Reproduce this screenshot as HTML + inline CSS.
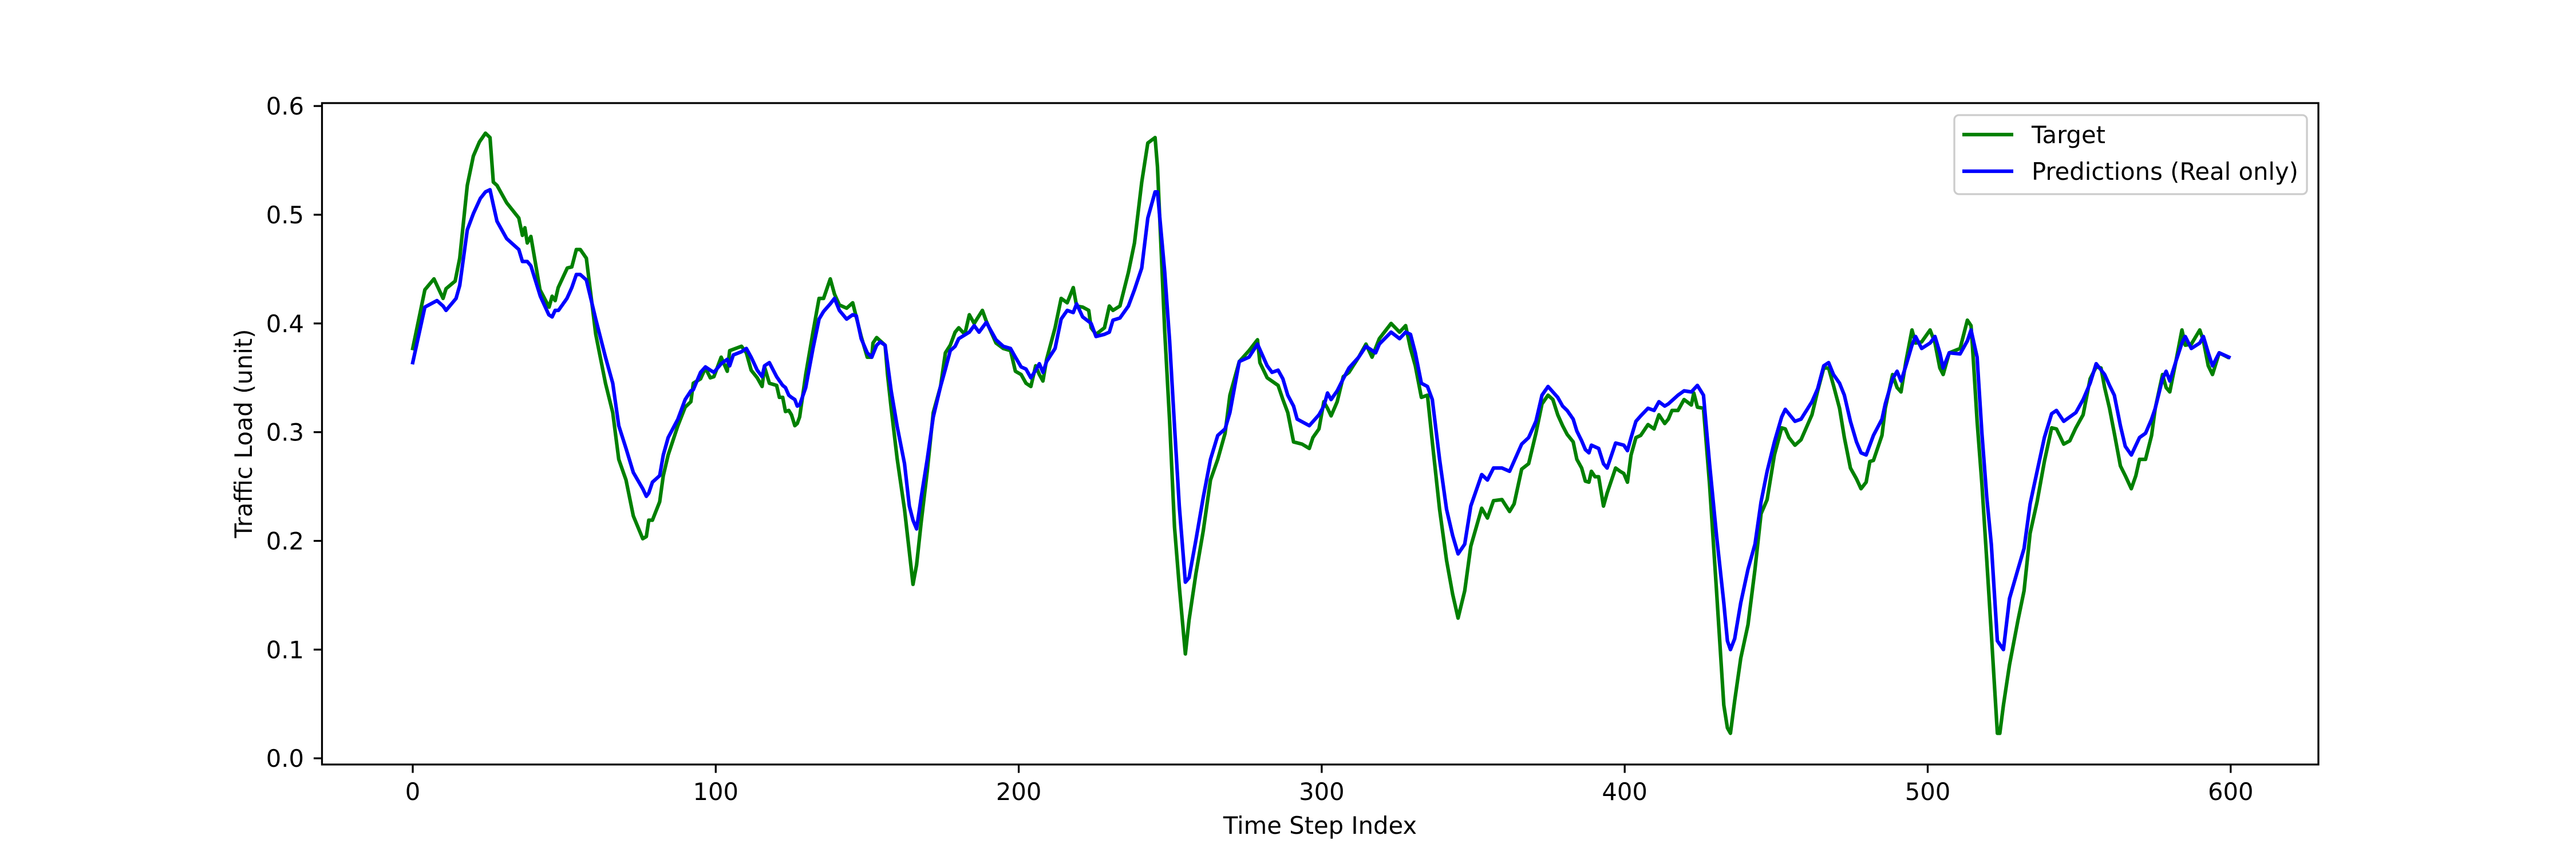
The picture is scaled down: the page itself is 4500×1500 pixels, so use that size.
<!DOCTYPE html>
<html>
<head>
<meta charset="utf-8">
<style>
html,body{margin:0;padding:0;background:#fff;}
svg{display:block;}
text{font-family:"DejaVu Sans","Liberation Sans",sans-serif;font-size:41.7px;fill:#000;}
</style>
</head>
<body>
<svg id="chart" width="4500" height="1500" viewBox="0 0 4500 1500" xmlns="http://www.w3.org/2000/svg">
  <rect x="0" y="0" width="4500" height="1500" fill="#ffffff"/>
  <g id="plot"></g>
  <g id="axes"></g>
  <text x="2306" y="1456" text-anchor="middle">Time Step Index</text>
  <text x="0" y="0" text-anchor="middle" transform="translate(440,757) rotate(-90)">Traffic Load (unit)</text>
  <g>
    <rect x="3414" y="201" width="616" height="138" rx="8" fill="#ffffff" fill-opacity="0.8" stroke="#cccccc" stroke-width="3.3"/>
    <g>
      <line x1="3428" y1="235" x2="3517" y2="235" stroke="#008000" stroke-width="6.25"/>
      <text x="3549" y="250">Target</text>
    </g>
    <g>
      <line x1="3428" y1="299" x2="3517" y2="299" stroke="#0000ff" stroke-width="6.25"/>
      <text x="3549" y="314">Predictions (Real only)</text>
    </g>
  </g>
</svg>
<script>
const targetSteps = [0,4,7,10,11,14,15.5,18,20,22,24,25.5,26.6,27.8,31,35,36.2,37,37.8,39,42,45,46,47,48,51,52.5,54,55.3,57.3,60.4,63.6,66,68,70.4,72.8,75.9,77.1,77.9,79.1,81.5,82.7,84.3,87.5,89.9,91.8,92.6,95,96.6,98.2,99.4,101.8,103.8,104.6,108.5,110.1,111.7,113.7,115.3,116.1,117.7,120.1,121,122.1,123,124.1,125,126.1,126.9,127.7,129.7,132.1,134.1,135.6,137.8,139.2,140.8,143.2,145.2,148,150,151.5,151.9,153.1,155.9,156.7,157.9,159.9,162.3,163.9,165.1,166.3,167.8,169.8,171.8,174.2,175.8,177.4,179,180.2,182.2,183.7,185.3,188,189.3,192.5,194.9,197.3,198.9,200.8,202.4,204,205.6,206.8,208,209.2,212,214,216,218,219.1,221.1,223.1,223.9,225.5,228.3,229.9,231.1,233.4,236.2,238.2,240.6,242.6,245,245.8,248.2,249.8,251.4,253,255,256.2,258.5,260.9,263.3,265.7,268.1,269.7,272.8,276,278.8,279.6,282,285.6,287.2,288.8,290.7,293.5,295.9,297.1,299.1,300.7,301.9,303.1,305.1,307.1,309,312.2,314.6,316.6,319,322.9,325.7,327.7,329.3,330.9,332.9,334.9,336.5,338.9,341.2,343.2,345,347.2,349.2,352.8,354.7,356.7,359.5,362,363.5,366,368.3,370.7,372.7,374.7,376.3,377.9,379.5,381,383,384.2,385.8,387,388.2,389,390.2,391.4,393,394.2,397,398.5,399.7,400.9,402.1,403.7,405.3,407.7,409.7,411.3,413.2,414.4,415.6,417.6,419.6,422,422.8,424,426,428,430.3,432.7,433.9,434.9,436.3,438.3,440.7,443,445,447,449.4,451.8,453,454.2,456.2,458.2,461.8,463.7,465.7,467.3,468.9,470.9,472.5,474.5,476.5,478,479.7,480.9,482.1,484.9,486,488.4,489.9,491.2,492.8,494.8,496,498,500.8,502.4,504,505.1,507.1,510.7,513.1,514.3,515.1,516.3,517.9,519.5,521,523,523.8,525,527,529.8,531.8,533.8,536.1,538.5,540.9,542.5,544.9,546.9,548.9,551.3,553.6,555.6,557.2,558.4,560,561.6,563.6,565.2,567.2,568.7,569.9,571.9,573.9,575.1,577.5,578.7,579.9,581.9,583.9,585,587,589.8,591,592.6,594,596.2,599];
const targetValues = [0.377,0.431,0.441,0.423,0.432,0.439,0.460,0.527,0.554,0.567,0.575,0.571,0.530,0.527,0.511,0.497,0.481,0.488,0.474,0.480,0.431,0.415,0.425,0.421,0.433,0.451,0.452,0.468,0.468,0.460,0.390,0.345,0.318,0.275,0.256,0.223,0.202,0.204,0.219,0.219,0.236,0.260,0.279,0.306,0.323,0.328,0.345,0.349,0.359,0.350,0.351,0.369,0.356,0.375,0.379,0.373,0.357,0.350,0.342,0.360,0.345,0.343,0.332,0.332,0.319,0.320,0.316,0.306,0.308,0.314,0.353,0.392,0.423,0.423,0.441,0.427,0.417,0.414,0.419,0.388,0.369,0.369,0.382,0.387,0.380,0.353,0.322,0.275,0.229,0.190,0.160,0.178,0.217,0.264,0.318,0.342,0.373,0.380,0.392,0.396,0.390,0.408,0.400,0.412,0.402,0.382,0.377,0.375,0.356,0.353,0.345,0.342,0.361,0.353,0.347,0.367,0.396,0.423,0.419,0.433,0.416,0.415,0.412,0.396,0.390,0.396,0.416,0.412,0.416,0.447,0.474,0.530,0.566,0.571,0.544,0.392,0.310,0.213,0.158,0.096,0.127,0.170,0.209,0.256,0.275,0.299,0.334,0.365,0.375,0.385,0.364,0.350,0.343,0.330,0.318,0.291,0.289,0.285,0.295,0.303,0.328,0.322,0.315,0.328,0.351,0.355,0.369,0.381,0.369,0.386,0.400,0.392,0.398,0.377,0.361,0.332,0.334,0.291,0.229,0.182,0.151,0.129,0.154,0.195,0.230,0.221,0.237,0.238,0.227,0.234,0.266,0.271,0.299,0.326,0.334,0.330,0.316,0.306,0.298,0.291,0.275,0.267,0.255,0.254,0.264,0.259,0.259,0.232,0.244,0.267,0.264,0.262,0.254,0.279,0.295,0.297,0.307,0.303,0.316,0.308,0.312,0.320,0.320,0.330,0.325,0.336,0.323,0.322,0.252,0.154,0.049,0.028,0.023,0.053,0.092,0.123,0.174,0.225,0.238,0.279,0.304,0.303,0.295,0.288,0.293,0.316,0.338,0.359,0.359,0.343,0.322,0.295,0.267,0.257,0.248,0.254,0.273,0.274,0.297,0.322,0.353,0.341,0.337,0.365,0.394,0.382,0.383,0.394,0.382,0.359,0.353,0.373,0.377,0.403,0.398,0.365,0.310,0.252,0.182,0.115,0.023,0.023,0.049,0.086,0.127,0.154,0.207,0.236,0.273,0.304,0.303,0.289,0.292,0.304,0.316,0.349,0.360,0.359,0.341,0.322,0.299,0.269,0.260,0.248,0.260,0.275,0.275,0.297,0.322,0.353,0.341,0.337,0.365,0.394,0.380,0.381,0.394,0.384,0.361,0.353,0.373,0.369];
const predSteps = [0,4,8,10,11,14.3,15.5,18,20,22.3,24,25.5,26.6,27.8,31,35,36.2,37.8,39,42.1,44.9,46,47,48.1,50.9,52.5,54,55.3,57.3,60.4,63.6,66,68,70.4,72.8,75.9,77.1,77.9,79.1,81.5,82.7,84.3,87.5,89.9,91.8,92.6,95,96.6,98.2,99.4,101.8,103.8,104.6,105.8,108.5,110.1,111.7,113.7,115.3,116.1,117.7,120.1,122.1,123,124.1,125,126.1,126.9,127.7,129.7,132.1,134.1,135.6,137.8,139.2,140.8,143.2,145.2,146.4,148,150,151.5,153.1,154.3,155.9,157.9,159.9,162.3,163.9,165.1,166.3,167.8,169.8,171.8,174.2,175.8,177.4,179,180.2,183.7,185.3,186.9,189.3,192.5,194.9,197.3,198.9,200.8,202.4,204,205.6,206.8,208,209.2,212,214,216,218,219.1,221.1,223.9,225.5,228.3,229.9,231.1,233.4,236.2,238.2,240.6,242.6,245,245.8,248.2,249.8,251.4,253,255,256.2,258.5,260.9,263.3,265.7,268.1,269.7,272.8,276,278.8,282,283.6,285.6,287.2,288.8,290.7,291.9,295.9,299.1,300.7,301.9,303.1,305.1,307.1,309,312.2,314.6,317.8,319,322.9,325.7,327.7,329.3,330.9,332.9,334.9,336.5,338.9,341.2,343.2,345,347.2,349.2,352.8,354.7,356.7,359.5,362,366,368.3,370.7,372.7,374.7,377.9,379.5,381,383,384.2,385.8,387,388.2,389,391.4,393,394.2,397,399.7,400.9,402.1,403.7,405.3,407.7,409.7,411.3,413.2,414.4,417.6,419.6,422,424,426,428,430.3,432.7,433.9,434.9,436.3,438.3,440.7,443,445,447,449.4,451.8,453,456.2,458.2,461.8,463.7,465.7,467.3,468.9,470.9,472.5,474.5,476.5,478,479.7,482.1,484.9,486,488.4,489.9,491.2,492.8,494.8,496,498,500.8,502.4,504,505.1,507.1,510.7,513.1,514.3,516.3,517.9,519.5,521,523,525,527,529.8,531.8,533.8,536.1,538.5,540.9,542.5,544.9,548.9,551.3,553.6,555.6,558.4,560,561.6,563.6,565.2,567.2,569.9,571.9,573.9,575.1,577.5,578.7,579.9,581.9,583.9,585,587,589.8,591,592.6,594,596.2,599.4];
const predValues = [0.364,0.415,0.421,0.416,0.412,0.423,0.435,0.486,0.501,0.515,0.521,0.523,0.509,0.494,0.478,0.468,0.457,0.457,0.453,0.425,0.408,0.406,0.412,0.412,0.423,0.433,0.445,0.445,0.440,0.404,0.369,0.345,0.306,0.285,0.263,0.248,0.241,0.244,0.254,0.260,0.279,0.295,0.312,0.330,0.338,0.339,0.355,0.360,0.357,0.355,0.363,0.367,0.361,0.371,0.374,0.377,0.369,0.357,0.351,0.361,0.364,0.351,0.343,0.341,0.334,0.332,0.330,0.324,0.325,0.341,0.377,0.404,0.411,0.418,0.423,0.412,0.404,0.408,0.407,0.386,0.373,0.369,0.380,0.383,0.380,0.338,0.305,0.271,0.232,0.219,0.211,0.240,0.275,0.314,0.342,0.358,0.375,0.379,0.386,0.392,0.398,0.392,0.401,0.385,0.379,0.377,0.369,0.360,0.358,0.350,0.357,0.363,0.355,0.365,0.377,0.404,0.412,0.410,0.418,0.406,0.400,0.388,0.390,0.392,0.403,0.405,0.416,0.431,0.451,0.497,0.521,0.521,0.447,0.384,0.306,0.232,0.162,0.166,0.201,0.240,0.275,0.297,0.303,0.318,0.365,0.369,0.381,0.361,0.355,0.357,0.349,0.334,0.324,0.312,0.306,0.316,0.324,0.336,0.330,0.338,0.349,0.359,0.369,0.379,0.373,0.381,0.392,0.386,0.392,0.390,0.373,0.345,0.342,0.330,0.275,0.229,0.205,0.188,0.197,0.232,0.261,0.256,0.267,0.267,0.264,0.289,0.295,0.310,0.334,0.342,0.332,0.324,0.320,0.312,0.301,0.292,0.284,0.281,0.288,0.285,0.271,0.267,0.290,0.288,0.283,0.295,0.310,0.315,0.322,0.320,0.328,0.324,0.326,0.334,0.338,0.337,0.343,0.334,0.271,0.205,0.143,0.108,0.100,0.110,0.143,0.174,0.197,0.236,0.264,0.291,0.314,0.321,0.310,0.312,0.328,0.340,0.361,0.364,0.353,0.345,0.334,0.310,0.291,0.281,0.279,0.297,0.312,0.326,0.349,0.356,0.347,0.361,0.380,0.388,0.377,0.382,0.388,0.373,0.359,0.373,0.372,0.384,0.394,0.369,0.299,0.240,0.197,0.108,0.100,0.147,0.174,0.193,0.234,0.264,0.295,0.317,0.320,0.310,0.318,0.330,0.345,0.363,0.353,0.343,0.334,0.306,0.287,0.279,0.295,0.299,0.312,0.322,0.349,0.356,0.347,0.365,0.382,0.388,0.377,0.382,0.388,0.373,0.361,0.373,0.369];
const xTickValues = [0,100,200,300,400,500,600];
const xTickLabels = ["0","100","200","300","400","500","600"];
const yTickValues = [0.0,0.1,0.2,0.3,0.4,0.5,0.6];
const yTickLabels = ["0.0","0.1","0.2","0.3","0.4","0.5","0.6"];

const NS = "http://www.w3.org/2000/svg";
const AX = {left:562.5, right:4050, top:180, bottom:1335};
const XMIN = -29.95, XMAX = 628.95, YMIN = -0.0057, YMAX = 0.6027;
function xScale(v){ return AX.left + (v - XMIN) / (XMAX - XMIN) * (AX.right - AX.left); }
function yScale(v){ return AX.bottom - (v - YMIN) / (YMAX - YMIN) * (AX.bottom - AX.top); }
function mk(tag, attrs){ const e = document.createElementNS(NS, tag); for (const k in attrs) e.setAttribute(k, attrs[k]); return e; }

const plot = document.getElementById('plot');
const axes = document.getElementById('axes');

function drawSeries(steps, vals, color, name){
  const d = steps.map((s,i)=>(i?'L':'M')+xScale(s).toFixed(1)+','+yScale(vals[i]).toFixed(1)).join('');
  const p = mk('path', {d:d, fill:'none', stroke:color, 'stroke-width':6.25, 'stroke-linejoin':'round', 'stroke-linecap':'square'});
  
  
  plot.appendChild(p);
}
drawSeries(targetSteps, targetValues, '#008000', 'target-line');
drawSeries(predSteps, predValues, '#0000ff', 'predictions-line');

const frame = mk('rect', {x:AX.left, y:AX.top, width:AX.right-AX.left, height:AX.bottom-AX.top, fill:'none', stroke:'#000', 'stroke-width':3.3});


axes.appendChild(frame);

xTickValues.forEach((v,i)=>{
  const x = xScale(v);
  const t = mk('line', {x1:x, y1:AX.bottom, x2:x, y2:AX.bottom+14.6, stroke:'#000', 'stroke-width':3.3});
  
  
  axes.appendChild(t);
  const l = mk('text', {x:x, y:1397, 'text-anchor':'middle'});
  
  
  l.textContent = xTickLabels[i];
  axes.appendChild(l);
});
yTickValues.forEach((v,i)=>{
  const y = yScale(v);
  const t = mk('line', {x1:AX.left-14.6, y1:y, x2:AX.left, y2:y, stroke:'#000', 'stroke-width':3.3});
  
  
  axes.appendChild(t);
  const l = mk('text', {x:531, y:y+15, 'text-anchor':'end'});
  
  
  l.textContent = yTickLabels[i];
  axes.appendChild(l);
});
</script>
</body>
</html>
